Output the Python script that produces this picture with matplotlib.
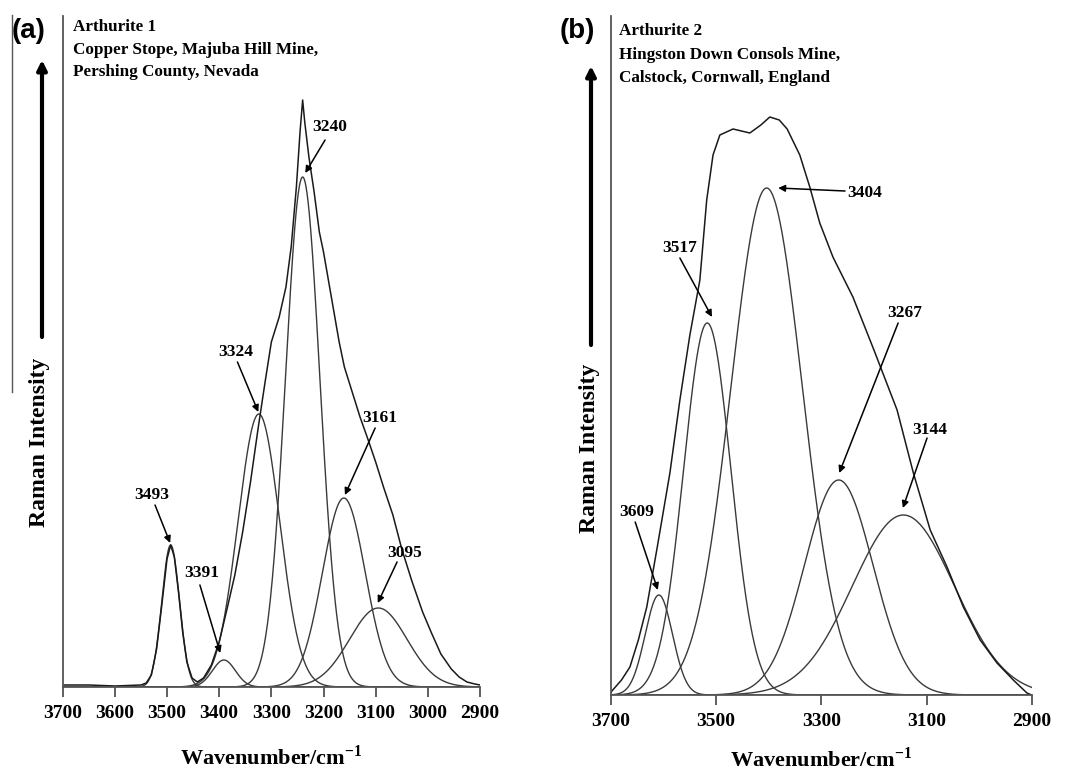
import numpy as np
import matplotlib.pyplot as plt
from matplotlib.patches import FancyArrowPatch
from matplotlib.lines import Line2D

plt.rcParams['font.family'] = ['Liberation Serif', 'DejaVu Serif']
plt.rcParams['mathtext.fontset'] = 'custom'
plt.rcParams['mathtext.rm'] = 'Liberation Serif:bold'
plt.rcParams['mathtext.bf'] = 'Liberation Serif:bold'

W, H = 1073, 773

# ---- (a) Arthurite 1 ----
bands_a = [3493, 3391, 3324, 3240, 3161, 3095]
height_a = [142, 27, 273, 510, 189, 79]
sigma_a = [17, 22, 40, 33, 41, 55]

obs_a_wn = [3700, 3650, 3600, 3550, 3540, 3530, 3520, 3510, 3500, 3493, 3486, 3478,
            3470, 3462, 3452, 3442, 3430, 3415, 3400, 3385, 3370, 3355, 3340, 3325,
            3312, 3300, 3285, 3272, 3262, 3252, 3245, 3240, 3236, 3228, 3218, 3208,
            3200, 3190, 3180, 3170, 3160, 3145, 3130, 3115, 3100, 3085, 3067, 3050,
            3030, 3010, 2993, 2975, 2955, 2940, 2925, 2910, 2900]
obs_a_int = [2, 2, 1, 2, 4, 12, 38, 82, 128, 142, 130, 95,
             55, 25, 9, 5, 9, 22, 45, 78, 112, 155, 205, 260,
             305, 345, 370, 400, 440, 500, 555, 587, 565, 530, 495, 455,
             435, 405, 375, 345, 320, 295, 270, 248, 225, 200, 172, 138,
             105, 75, 54, 33, 18, 10, 5, 3, 2]

# ---- (b) Arthurite 2 ----
bands_b = [3609, 3517, 3404, 3267, 3144]
height_b = [100, 372, 507, 215, 180]
sigma_b = [26, 45, 68, 65, 97]

obs_b_wn = [3700, 3680, 3664, 3648, 3632, 3612, 3588, 3569, 3550, 3531, 3518, 3506,
            3493, 3468, 3436, 3415, 3398, 3380, 3365, 3341, 3322, 3303, 3278, 3240,
            3200, 3156, 3125, 3093, 3061, 3030, 2998, 2966, 2935, 2909, 2900]
obs_b_int = [3, 15, 28, 55, 88, 148, 222, 295, 360, 415, 495, 540,
             560, 566, 562, 570, 578, 575, 566, 540, 508, 472, 438, 398,
             345, 285, 222, 165, 128, 88, 55, 32, 15, 2, 0]

# per band: label position, arrow tail, arrow head (data coords), same order as bands
ann_a = [((3529, 192), (3523, 182), (3494, 144)),
         ((3433, 114), (3437, 102), (3398, 34)),
         ((3368, 335), (3365, 325), (3325, 275)),
         ((3188, 560), (3197, 547), (3235, 514)),
         ((3092, 269), (3101, 259), (3159, 192)),
         ((3044, 134), (3059, 125), (3096, 84))]
ann_b = [((3651, 183), (3654, 173), (3611, 105)),
         ((3569, 447), (3569, 437), (3508, 378)),
         ((3217, 502), (3255, 504), (3382, 507)),
         ((3141, 382), (3154, 372), (3266, 222)),
         ((3093, 265), (3099, 257), (3145, 187))]

titles = [["Arthurite 1", "Copper Stope, Majuba Hill Mine,", "Pershing County, Nevada"],
          ["Arthurite 2", "Hingston Down Consols Mine,", "Calstock, Cornwall, England"]]

fig = plt.figure(figsize=(W / 100, H / 100), dpi=100)


def px(x, y):
    return x / W, 1 - y / H


def panel(rect, bands, heights, sigmas, wn, inten, anns, ticks, ytop):
    ax = fig.add_axes(rect)
    x = np.linspace(3700, 2900, 1601)
    for c, h, s in zip(bands, heights, sigmas):
        ax.plot(x, h * np.exp(-0.5 * ((x - c) / s) ** 2), color='#3a3a3a', lw=1.0)
    ax.plot(wn, inten, color='#1a1a1a', lw=1.1)
    for lab, (tp, tail, head) in zip(bands, anns):
        ax.text(tp[0], tp[1], str(lab), ha='center', va='center',
                fontsize=12.5, fontweight='bold')
        ax.annotate('', xy=head, xytext=tail,
                    arrowprops=dict(arrowstyle='-|>', color='k', lw=1.1,
                                    mutation_scale=10, shrinkA=0, shrinkB=0))
    ax.set_xlim(3700, 2900)
    ax.set_ylim(0, ytop)
    ax.set_xticks(ticks)
    ax.set_xticklabels([str(t) for t in ticks], fontsize=14, fontweight='bold')
    ax.set_yticks([])
    ax.tick_params(axis='x', direction='out', length=7, width=1.2, color='#444', pad=6)
    for sp in ['top', 'right']:
        ax.spines[sp].set_visible(False)
    for sp in ['left', 'bottom']:
        ax.spines[sp].set_color('#555')
        ax.spines[sp].set_linewidth(1.3)
    return ax


ax1 = panel([62.7 / W, 1 - 687 / H, (480 - 62.7) / W, (687 - 16) / H],
            bands_a, height_a, sigma_a, obs_a_wn, obs_a_int, ann_a,
            list(range(3700, 2899, -100)), 671)
ax2 = panel([611 / W, 1 - 695 / H, (1031.7 - 611) / W, (695 - 16) / H],
            bands_b, height_b, sigma_b, obs_b_wn, obs_b_int, ann_b,
            [3700, 3500, 3300, 3100, 2900], 679)

# axis labels
xlab = 'Wavenumber/cm$^{\\mathrm{-1}}$'
fig.text(*px(271, 758), xlab, ha='center', va='center', fontsize=16, fontweight='bold')
fig.text(*px(821, 760), xlab, ha='center', va='center', fontsize=16, fontweight='bold')
fig.text(*px(40, 442), 'Raman Intensity', rotation=90, ha='center', va='center',
         fontsize=17, fontweight='bold')
fig.text(*px(589, 448), 'Raman Intensity', rotation=90, ha='center', va='center',
         fontsize=17, fontweight='bold')

# intensity arrows
for xa, y0, y1 in [(42, 337, 60), (591, 345, 66)]:
    fig.add_artist(FancyArrowPatch(px(xa, y0), px(xa, y1), transform=fig.transFigure,
                                   arrowstyle='-|>', mutation_scale=14, lw=3,
                                   color='k', shrinkA=0, shrinkB=0))

# panel letters
fig.text(*px(29, 31), '(a)', ha='center', va='center', fontsize=20,
         fontweight='bold', family='Liberation Sans')
fig.text(*px(577, 31), '(b)', ha='center', va='center', fontsize=20,
         fontweight='bold', family='Liberation Sans')

# sample titles
for (x0, ys), lines in zip([(73, [27, 50, 72]), (619, [31, 55, 78])], titles):
    for y, t in zip(ys, lines):
        fig.text(*px(x0, y), t, ha='left', va='center', fontsize=12.3, fontweight='bold')

# stray frame line on the far left
fig.add_artist(Line2D([12 / W, 12 / W], [1 - 15 / H, 1 - 392 / H],
                      transform=fig.transFigure, color='#555', lw=1.0))

fig.savefig('out.png', dpi=100)
